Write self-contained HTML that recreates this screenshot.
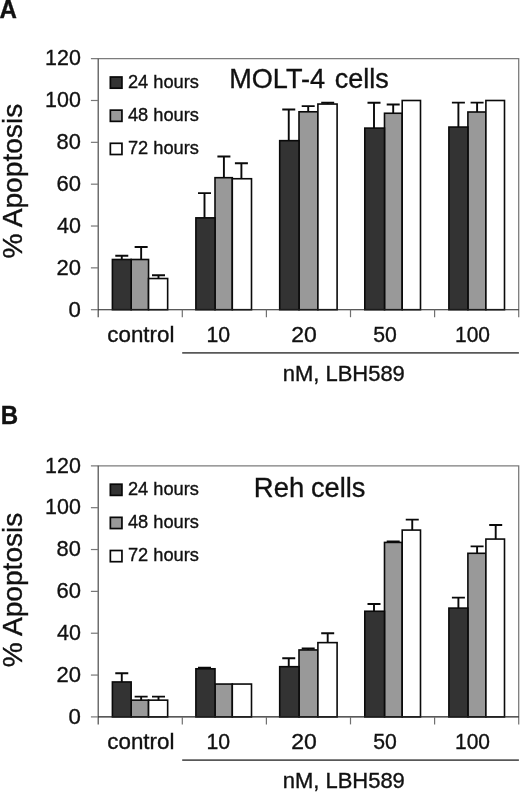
<!DOCTYPE html>
<html><head><meta charset="utf-8"><title>Figure</title>
<style>
html,body{margin:0;padding:0;background:#fff;}
svg{display:block;font-family:"Liberation Sans",Arial,Helvetica,sans-serif;fill:#111;}
text{stroke:#111;stroke-width:0.35px;}
</style></head><body>
<svg width="520" height="792" viewBox="0 0 520 792">
<rect width="520" height="792" fill="#fff"/>
<text x="-0.6" y="17.8" font-size="25.5" font-weight="bold" textLength="17.4" lengthAdjust="spacingAndGlyphs">A</text>
<path d="M90.90 58.65H518.70V317.20" fill="none" stroke="#7c7c7c" stroke-width="1.3"/>
<path d="M98.20 58.65V317.20" fill="none" stroke="#4a4a4a" stroke-width="1.2"/>
<path d="M90.90 309.70H98.20" stroke="#777" stroke-width="1.2"/>
<text x="68.51" y="316.50" font-size="22.9" textLength="12.35" lengthAdjust="spacingAndGlyphs">0</text>
<path d="M90.90 267.86H98.20" stroke="#777" stroke-width="1.2"/>
<text x="56.40" y="274.66" font-size="22.9" textLength="24.48" lengthAdjust="spacingAndGlyphs">20</text>
<path d="M90.90 226.02H98.20" stroke="#777" stroke-width="1.2"/>
<text x="57.02" y="232.82" font-size="22.9" textLength="23.84" lengthAdjust="spacingAndGlyphs">40</text>
<path d="M90.90 184.18H98.20" stroke="#777" stroke-width="1.2"/>
<text x="56.40" y="190.98" font-size="22.9" textLength="24.48" lengthAdjust="spacingAndGlyphs">60</text>
<path d="M90.90 142.33H98.20" stroke="#777" stroke-width="1.2"/>
<text x="56.57" y="149.13" font-size="22.9" textLength="24.30" lengthAdjust="spacingAndGlyphs">80</text>
<path d="M90.90 100.49H98.20" stroke="#777" stroke-width="1.2"/>
<text x="45.09" y="107.29" font-size="22.9" textLength="35.73" lengthAdjust="spacingAndGlyphs">100</text>
<text x="45.09" y="65.45" font-size="22.9" textLength="35.73" lengthAdjust="spacingAndGlyphs">120</text>
<path d="M121.78 259.49V255.72M115.28 255.72H128.28" stroke="#0a0a0a" stroke-width="1.9" fill="none"/>
<path d="M141.15 259.49V246.94M134.65 246.94H147.65" stroke="#0a0a0a" stroke-width="1.9" fill="none"/>
<path d="M158.50 278.53V275.18M152.00 275.18H165.00" stroke="#0a0a0a" stroke-width="1.9" fill="none"/>
<rect x="131.15" y="259.49" width="17.40" height="50.21" fill="#999" stroke="#0a0a0a" stroke-width="1.6"/>
<rect x="112.40" y="259.49" width="18.75" height="50.21" fill="#333" stroke="#0a0a0a" stroke-width="1.6"/>
<rect x="148.55" y="278.53" width="19.10" height="31.17" fill="#fff" stroke="#0a0a0a" stroke-width="1.6"/>
<path d="M204.50 217.86V193.17M198.00 193.17H211.00" stroke="#0a0a0a" stroke-width="1.9" fill="none"/>
<path d="M223.90 177.69V156.56M217.40 156.56H230.40" stroke="#0a0a0a" stroke-width="1.9" fill="none"/>
<path d="M241.40 178.74V163.25M234.90 163.25H247.90" stroke="#0a0a0a" stroke-width="1.9" fill="none"/>
<rect x="215.00" y="177.69" width="17.30" height="132.01" fill="#999" stroke="#0a0a0a" stroke-width="1.6"/>
<rect x="195.90" y="217.86" width="19.10" height="91.84" fill="#333" stroke="#0a0a0a" stroke-width="1.6"/>
<rect x="232.30" y="178.74" width="19.20" height="130.96" fill="#fff" stroke="#0a0a0a" stroke-width="1.6"/>
<path d="M288.75 140.66V109.49M282.25 109.49H295.25" stroke="#0a0a0a" stroke-width="1.9" fill="none"/>
<path d="M308.20 111.79V106.14M301.70 106.14H314.70" stroke="#0a0a0a" stroke-width="1.9" fill="none"/>
<path d="M327.70 104.05V102.79M321.20 102.79H334.20" stroke="#0a0a0a" stroke-width="1.9" fill="none"/>
<rect x="299.00" y="111.79" width="18.90" height="197.91" fill="#999" stroke="#0a0a0a" stroke-width="1.6"/>
<rect x="279.70" y="140.66" width="19.30" height="169.04" fill="#333" stroke="#0a0a0a" stroke-width="1.6"/>
<rect x="317.90" y="104.05" width="19.20" height="205.65" fill="#fff" stroke="#0a0a0a" stroke-width="1.6"/>
<path d="M374.00 128.11V102.79M367.50 102.79H380.50" stroke="#0a0a0a" stroke-width="1.9" fill="none"/>
<path d="M393.20 113.25V104.47M386.70 104.47H399.70" stroke="#0a0a0a" stroke-width="1.9" fill="none"/>
<rect x="384.50" y="113.25" width="17.70" height="196.45" fill="#999" stroke="#0a0a0a" stroke-width="1.6"/>
<rect x="364.80" y="128.11" width="19.70" height="181.59" fill="#333" stroke="#0a0a0a" stroke-width="1.6"/>
<rect x="402.20" y="100.49" width="18.30" height="209.21" fill="#fff" stroke="#0a0a0a" stroke-width="1.6"/>
<path d="M458.40 127.06V102.58M451.90 102.58H464.90" stroke="#0a0a0a" stroke-width="1.9" fill="none"/>
<path d="M477.10 112.00V102.58M470.60 102.58H483.60" stroke="#0a0a0a" stroke-width="1.9" fill="none"/>
<rect x="467.90" y="112.00" width="18.00" height="197.70" fill="#999" stroke="#0a0a0a" stroke-width="1.6"/>
<rect x="448.90" y="127.06" width="19.00" height="182.64" fill="#333" stroke="#0a0a0a" stroke-width="1.6"/>
<rect x="485.90" y="100.49" width="18.60" height="209.21" fill="#fff" stroke="#0a0a0a" stroke-width="1.6"/>
<path d="M98.20 309.70H518.70" stroke="#222" stroke-width="1.15"/>
<path d="M182.30 309.70V317.20" stroke="#707070" stroke-width="1.2"/>
<path d="M266.40 309.70V317.20" stroke="#707070" stroke-width="1.2"/>
<path d="M350.50 309.70V317.20" stroke="#707070" stroke-width="1.2"/>
<path d="M434.60 309.70V317.20" stroke="#707070" stroke-width="1.2"/>
<text x="107.35" y="341.60" font-size="21.6" textLength="67.04" lengthAdjust="spacingAndGlyphs">control</text>
<text x="206.41" y="341.80" font-size="21.6" textLength="23.64" lengthAdjust="spacingAndGlyphs">10</text>
<text x="291.25" y="341.80" font-size="21.6" textLength="25.56" lengthAdjust="spacingAndGlyphs">20</text>
<text x="373.25" y="341.80" font-size="21.6" textLength="23.59" lengthAdjust="spacingAndGlyphs">50</text>
<text x="455.03" y="341.80" font-size="21.6" textLength="34.98" lengthAdjust="spacingAndGlyphs">100</text>
<path d="M182.2 352.90H518.90" stroke="#585858" stroke-width="1.6"/>
<text x="282.72" y="380.50" font-size="21.3" textLength="122.10" lengthAdjust="spacingAndGlyphs">nM, LBH589</text>
<rect x="110.35" y="77.00" width="11.6" height="11.2" fill="#333" stroke="#080808" stroke-width="1.7"/>
<text x="127.9" y="87.95" font-size="17.9" textLength="71" lengthAdjust="spacingAndGlyphs">24 hours</text>
<rect x="110.35" y="110.15" width="11.6" height="11.2" fill="#999" stroke="#080808" stroke-width="1.7"/>
<text x="127.9" y="121.10" font-size="17.9" textLength="71" lengthAdjust="spacingAndGlyphs">48 hours</text>
<rect x="110.35" y="143.30" width="11.6" height="11.2" fill="#fff" stroke="#080808" stroke-width="1.7"/>
<text x="127.9" y="154.25" font-size="17.9" textLength="71" lengthAdjust="spacingAndGlyphs">72 hours</text>
<text x="229.27" y="88.30" font-size="27.4" textLength="95.78" lengthAdjust="spacingAndGlyphs">MOLT-4</text>
<text x="334.75" y="88.30" font-size="27.4" textLength="54.01" lengthAdjust="spacingAndGlyphs">cells</text>
<text transform="translate(21.6 257.60) rotate(-90)" x="-0.98" y="0" font-size="27.8" textLength="154.80" lengthAdjust="spacingAndGlyphs">% Apoptosis</text>
<text x="0.7" y="423.7" font-size="25.5" font-weight="bold" textLength="17.4" lengthAdjust="spacingAndGlyphs">B</text>
<path d="M90.90 465.85H518.70V724.40" fill="none" stroke="#7c7c7c" stroke-width="1.3"/>
<path d="M98.20 465.85V724.40" fill="none" stroke="#4a4a4a" stroke-width="1.2"/>
<path d="M90.90 716.90H98.20" stroke="#777" stroke-width="1.2"/>
<text x="68.51" y="723.70" font-size="22.9" textLength="12.35" lengthAdjust="spacingAndGlyphs">0</text>
<path d="M90.90 675.06H98.20" stroke="#777" stroke-width="1.2"/>
<text x="56.40" y="681.86" font-size="22.9" textLength="24.48" lengthAdjust="spacingAndGlyphs">20</text>
<path d="M90.90 633.22H98.20" stroke="#777" stroke-width="1.2"/>
<text x="57.02" y="640.02" font-size="22.9" textLength="23.84" lengthAdjust="spacingAndGlyphs">40</text>
<path d="M90.90 591.38H98.20" stroke="#777" stroke-width="1.2"/>
<text x="56.40" y="598.17" font-size="22.9" textLength="24.48" lengthAdjust="spacingAndGlyphs">60</text>
<path d="M90.90 549.53H98.20" stroke="#777" stroke-width="1.2"/>
<text x="56.57" y="556.33" font-size="22.9" textLength="24.30" lengthAdjust="spacingAndGlyphs">80</text>
<path d="M90.90 507.69H98.20" stroke="#777" stroke-width="1.2"/>
<text x="45.09" y="514.49" font-size="22.9" textLength="35.73" lengthAdjust="spacingAndGlyphs">100</text>
<text x="45.09" y="472.65" font-size="22.9" textLength="35.73" lengthAdjust="spacingAndGlyphs">120</text>
<path d="M121.78 681.96V673.18M115.28 673.18H128.28" stroke="#0a0a0a" stroke-width="1.9" fill="none"/>
<path d="M141.15 700.16V696.61M134.65 696.61H147.65" stroke="#0a0a0a" stroke-width="1.9" fill="none"/>
<path d="M158.50 700.16V696.61M152.00 696.61H165.00" stroke="#0a0a0a" stroke-width="1.9" fill="none"/>
<rect x="131.15" y="700.16" width="17.40" height="16.74" fill="#999" stroke="#0a0a0a" stroke-width="1.6"/>
<rect x="112.40" y="681.96" width="18.75" height="34.94" fill="#333" stroke="#0a0a0a" stroke-width="1.6"/>
<rect x="148.55" y="700.16" width="19.10" height="16.74" fill="#fff" stroke="#0a0a0a" stroke-width="1.6"/>
<path d="M204.50 668.78V667.74M198.00 667.74H211.00" stroke="#0a0a0a" stroke-width="1.9" fill="none"/>
<rect x="215.00" y="684.05" width="17.30" height="32.85" fill="#999" stroke="#0a0a0a" stroke-width="1.6"/>
<rect x="195.90" y="668.78" width="19.10" height="48.12" fill="#333" stroke="#0a0a0a" stroke-width="1.6"/>
<rect x="232.30" y="684.05" width="19.20" height="32.85" fill="#fff" stroke="#0a0a0a" stroke-width="1.6"/>
<path d="M288.75 666.69V658.32M282.25 658.32H295.25" stroke="#0a0a0a" stroke-width="1.9" fill="none"/>
<path d="M308.20 649.95V648.49M301.70 648.49H314.70" stroke="#0a0a0a" stroke-width="1.9" fill="none"/>
<path d="M327.70 642.63V633.22M321.20 633.22H334.20" stroke="#0a0a0a" stroke-width="1.9" fill="none"/>
<rect x="299.00" y="649.95" width="18.90" height="66.95" fill="#999" stroke="#0a0a0a" stroke-width="1.6"/>
<rect x="279.70" y="666.69" width="19.30" height="50.21" fill="#333" stroke="#0a0a0a" stroke-width="1.6"/>
<rect x="317.90" y="642.63" width="19.20" height="74.27" fill="#fff" stroke="#0a0a0a" stroke-width="1.6"/>
<path d="M374.00 611.25V603.93M367.50 603.93H380.50" stroke="#0a0a0a" stroke-width="1.9" fill="none"/>
<path d="M393.20 542.42V541.37M386.70 541.37H399.70" stroke="#0a0a0a" stroke-width="1.9" fill="none"/>
<path d="M412.25 530.08V519.62M405.75 519.62H418.75" stroke="#0a0a0a" stroke-width="1.9" fill="none"/>
<rect x="384.50" y="542.42" width="17.70" height="174.48" fill="#999" stroke="#0a0a0a" stroke-width="1.6"/>
<rect x="364.80" y="611.25" width="19.70" height="105.65" fill="#333" stroke="#0a0a0a" stroke-width="1.6"/>
<rect x="402.20" y="530.08" width="18.30" height="186.82" fill="#fff" stroke="#0a0a0a" stroke-width="1.6"/>
<path d="M458.40 608.11V597.65M451.90 597.65H464.90" stroke="#0a0a0a" stroke-width="1.9" fill="none"/>
<path d="M477.10 553.30V546.40M470.60 546.40H483.60" stroke="#0a0a0a" stroke-width="1.9" fill="none"/>
<path d="M495.70 539.07V525.06M489.20 525.06H502.20" stroke="#0a0a0a" stroke-width="1.9" fill="none"/>
<rect x="467.90" y="553.30" width="18.00" height="163.60" fill="#999" stroke="#0a0a0a" stroke-width="1.6"/>
<rect x="448.90" y="608.11" width="19.00" height="108.79" fill="#333" stroke="#0a0a0a" stroke-width="1.6"/>
<rect x="485.90" y="539.07" width="18.60" height="177.83" fill="#fff" stroke="#0a0a0a" stroke-width="1.6"/>
<path d="M98.20 716.90H518.70" stroke="#222" stroke-width="1.15"/>
<path d="M182.30 716.90V724.40" stroke="#707070" stroke-width="1.2"/>
<path d="M266.40 716.90V724.40" stroke="#707070" stroke-width="1.2"/>
<path d="M350.50 716.90V724.40" stroke="#707070" stroke-width="1.2"/>
<path d="M434.60 716.90V724.40" stroke="#707070" stroke-width="1.2"/>
<text x="107.35" y="748.80" font-size="21.6" textLength="67.04" lengthAdjust="spacingAndGlyphs">control</text>
<text x="206.41" y="749.00" font-size="21.6" textLength="23.64" lengthAdjust="spacingAndGlyphs">10</text>
<text x="291.25" y="749.00" font-size="21.6" textLength="25.56" lengthAdjust="spacingAndGlyphs">20</text>
<text x="373.25" y="749.00" font-size="21.6" textLength="23.59" lengthAdjust="spacingAndGlyphs">50</text>
<text x="455.03" y="749.00" font-size="21.6" textLength="34.98" lengthAdjust="spacingAndGlyphs">100</text>
<path d="M182.2 760.10H518.90" stroke="#585858" stroke-width="1.6"/>
<text x="282.72" y="787.70" font-size="21.3" textLength="122.10" lengthAdjust="spacingAndGlyphs">nM, LBH589</text>
<rect x="110.35" y="484.20" width="11.6" height="11.2" fill="#333" stroke="#080808" stroke-width="1.7"/>
<text x="127.9" y="495.15" font-size="17.9" textLength="71" lengthAdjust="spacingAndGlyphs">24 hours</text>
<rect x="110.35" y="517.35" width="11.6" height="11.2" fill="#999" stroke="#080808" stroke-width="1.7"/>
<text x="127.9" y="528.30" font-size="17.9" textLength="71" lengthAdjust="spacingAndGlyphs">48 hours</text>
<rect x="110.35" y="550.50" width="11.6" height="11.2" fill="#fff" stroke="#080808" stroke-width="1.7"/>
<text x="127.9" y="561.45" font-size="17.9" textLength="71" lengthAdjust="spacingAndGlyphs">72 hours</text>
<text x="253.84" y="496.50" font-size="27.4" textLength="50.30" lengthAdjust="spacingAndGlyphs">Reh</text>
<text x="310.94" y="496.50" font-size="27.4" textLength="54.42" lengthAdjust="spacingAndGlyphs">cells</text>
<text transform="translate(21.6 666.40) rotate(-90)" x="-0.98" y="0" font-size="27.8" textLength="154.80" lengthAdjust="spacingAndGlyphs">% Apoptosis</text>
</svg>
</body></html>
